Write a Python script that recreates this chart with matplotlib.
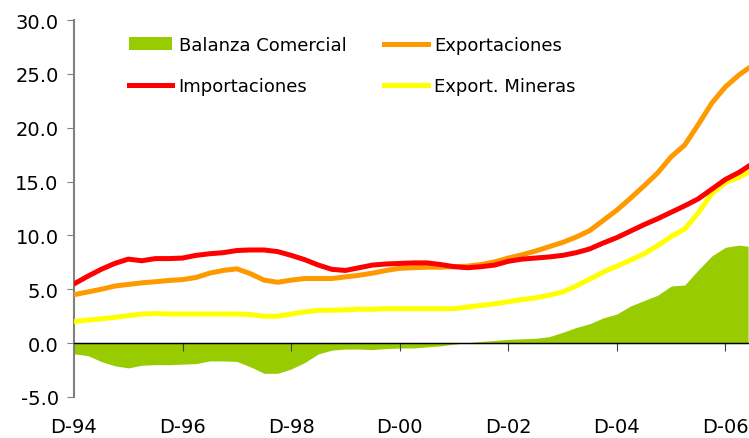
import numpy as np
import matplotlib.pyplot as plt

# meses desde D-94 (trimestral + ultimo dato)
mes = list(range(0, 148, 3)) + [149]

balanza = [-1.0, -1.15, -1.7, -2.1, -2.3, -2.05, -2.0, -2.0, -1.95, -1.9,
           -1.65, -1.65, -1.7, -2.2, -2.8, -2.8, -2.4, -1.8, -1.0, -0.65,
           -0.55, -0.55, -0.6, -0.5, -0.45, -0.45, -0.35, -0.25, -0.1, 0.05,
           0.15, 0.25, 0.35, 0.4, 0.45, 0.6, 1.0, 1.45, 1.8, 2.35,
           2.7, 3.45, 3.95, 4.45, 5.3, 5.4, 6.8, 8.1, 8.9, 9.1, 9.0]
export = [4.5, 4.75, 5.0, 5.3, 5.45, 5.6, 5.7, 5.82, 5.9, 6.1,
          6.5, 6.75, 6.9, 6.45, 5.85, 5.65, 5.85, 6.0, 6.0, 6.0,
          6.15, 6.3, 6.5, 6.75, 6.95, 7.0, 7.05, 7.05, 7.1, 7.15,
          7.3, 7.55, 7.9, 8.2, 8.55, 8.95, 9.35, 9.85, 10.45, 11.4,
          12.35, 13.45, 14.6, 15.8, 17.3, 18.4, 20.3, 22.3, 23.8, 24.9, 25.5]
import_ = [5.5, 6.2, 6.85, 7.4, 7.8, 7.65, 7.85, 7.85, 7.9, 8.15,
           8.3, 8.4, 8.6, 8.65, 8.65, 8.5, 8.15, 7.75, 7.25, 6.85,
           6.75, 7.0, 7.25, 7.35, 7.4, 7.45, 7.45, 7.3, 7.1, 7.0,
           7.1, 7.25, 7.6, 7.8, 7.9, 8.0, 8.15, 8.4, 8.75, 9.3,
           9.8, 10.4, 11.0, 11.55, 12.15, 12.75, 13.4, 14.3, 15.2, 15.85, 16.4]
mineras = [2.0, 2.15, 2.25, 2.4, 2.55, 2.7, 2.75, 2.7, 2.7, 2.7,
           2.7, 2.7, 2.7, 2.65, 2.5, 2.5, 2.7, 2.9, 3.05, 3.05,
           3.1, 3.15, 3.15, 3.2, 3.2, 3.2, 3.2, 3.2, 3.2, 3.35,
           3.5, 3.65, 3.85, 4.05, 4.2, 4.45, 4.75, 5.3, 5.95, 6.6,
           7.15, 7.7, 8.3, 9.05, 9.9, 10.6, 12.1, 13.9, 14.9, 15.4, 15.85]

xticks = [0, 24, 48, 72, 96, 120, 144]
xlabels = ['D-94', 'D-96', 'D-98', 'D-00', 'D-02', 'D-04', 'D-06']

plt.rcParams['font.family'] = 'DejaVu Sans'

fig = plt.figure(figsize=(7.49, 4.39), dpi=100)
ax = fig.add_axes([74/749, 1 - 398/439, 1 - 74/749, (398 - 21)/439])

ax.fill_between(mes, 0, balanza, color='#99CC00', lw=0, label='Balanza Comercial', zorder=1)
ax.axhline(0, color='black', lw=1, zorder=2)
ax.plot(mes, export, color='#FF9900', lw=3.6, label='Exportaciones', zorder=3)
ax.plot(mes, import_, color='#FF0000', lw=3.6, label='Importaciones', zorder=4)
ax.plot(mes, mineras, color='#FFFF00', lw=3.6, label='Export. Mineras', zorder=3)

ax.set_xlim(0, 149.2)
ax.set_ylim(-5, 30)
ax.set_yticks(np.arange(-5, 31, 5))
ax.set_yticklabels(['%.1f' % v for v in np.arange(-5, 31, 5)], fontsize=14)
ax.tick_params(axis='y', direction='out', length=5, color='#808080', pad=6)

# eje x cruza en 0, etiquetas abajo
ax.spines['bottom'].set_position(('data', 0))
ax.spines['bottom'].set_color('black')
ax.spines['top'].set_visible(False)
ax.spines['right'].set_visible(False)
ax.spines['left'].set_color('#808080')
ax.spines['left'].set_linewidth(1.5)
ax.set_xticks(xticks)
ax.set_xticklabels(xlabels, fontsize=14)
ax.tick_params(axis='x', direction='out', length=6, color='#404040', pad=47)

h, l = ax.get_legend_handles_labels()
orden = ['Balanza Comercial', 'Importaciones', 'Exportaciones', 'Export. Mineras']
hs = [h[l.index(n)] for n in orden]
fig.legend(hs, orden, loc='upper left', bbox_to_anchor=(129/749, 1 - 37/439),
           ncol=2, frameon=False, fontsize=13, handlelength=2.4, handletextpad=0.35,
           columnspacing=2.1, labelspacing=1.3, borderpad=0, borderaxespad=0)

fig.savefig('out.png', dpi=100)
